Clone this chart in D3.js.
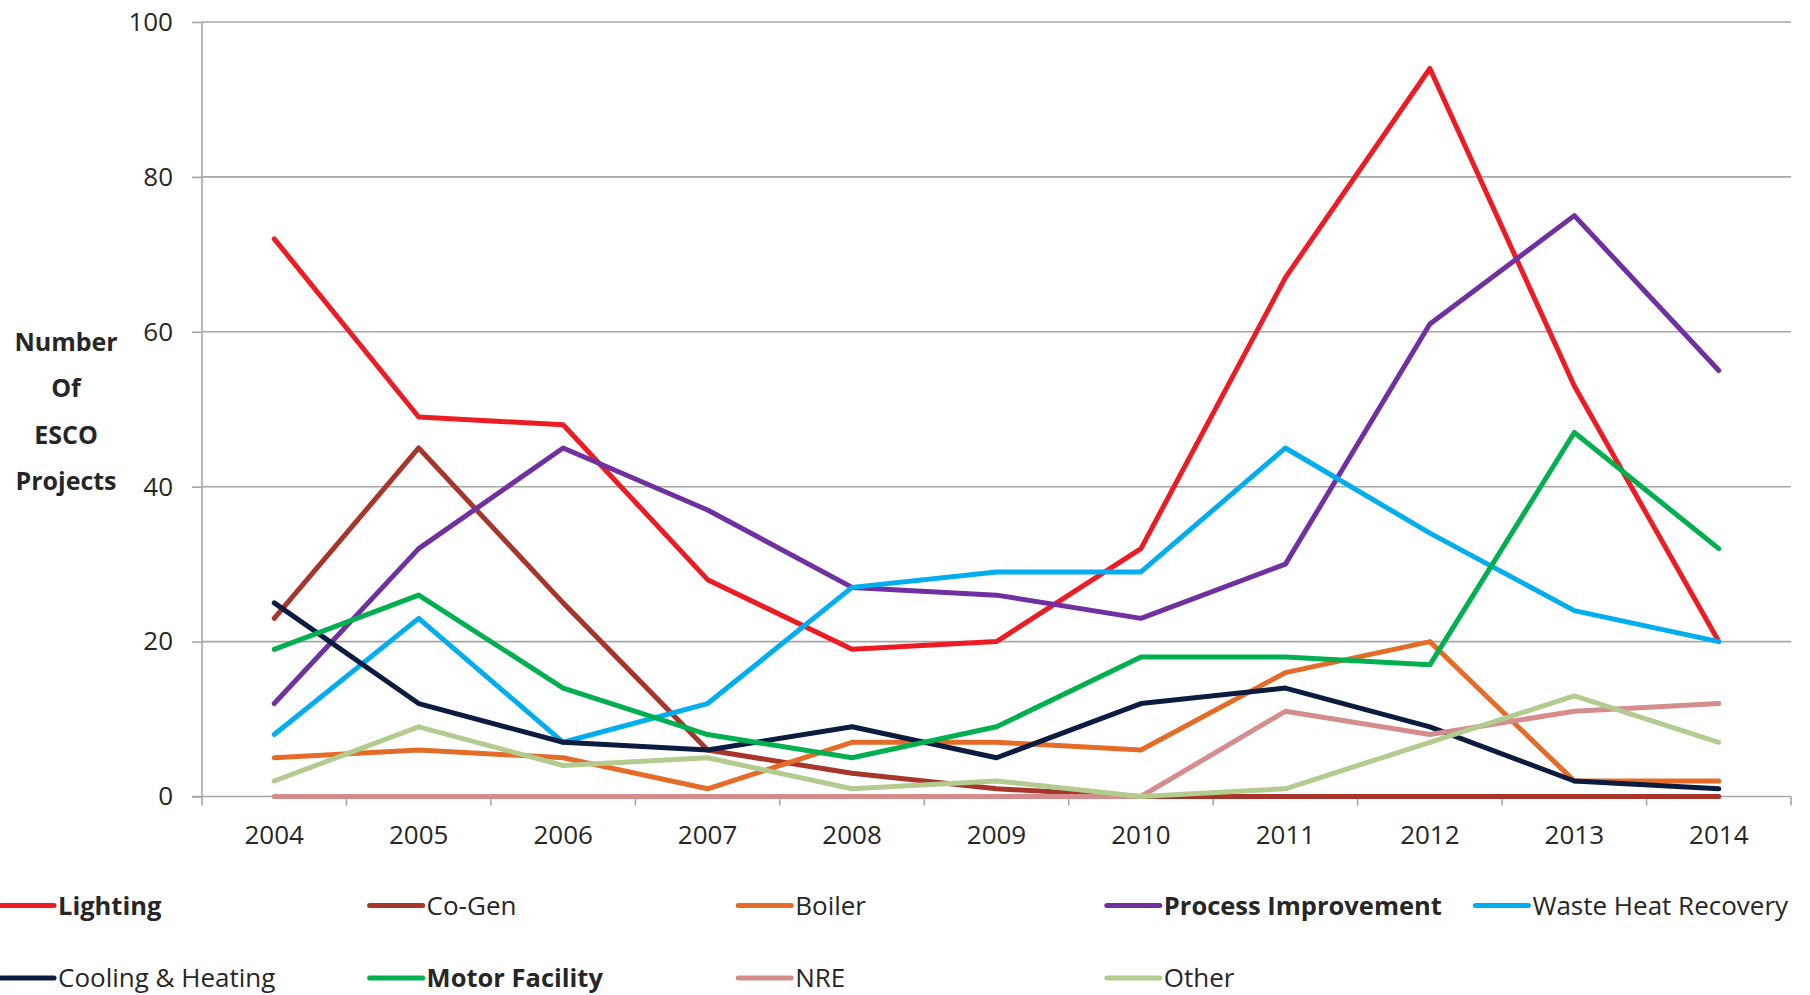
<!DOCTYPE html>
<html>
<head>
<meta charset="utf-8">
<script src="https://cdn.jsdelivr.net/npm/d3@7"></script>
<style>
  html, body { margin: 0; padding: 0; background: #ffffff; }
  svg { display: block; }
  text { font-family: "Open Sans", "Noto Sans", sans-serif; fill: #262626; }
</style>
</head>
<body>
<svg id="chart" width="1810" height="995"></svg>
<script>
// ---- data ----
const years = [2004, 2005, 2006, 2007, 2008, 2009, 2010, 2011, 2012, 2013, 2014];
const yTicks = [0, 20, 40, 60, 80, 100];
const seriesNames = ["Lighting", "Co-Gen", "Boiler", "Process Improvement", "Waste Heat Recovery",
                     "Cooling & Heating", "Motor Facility", "NRE", "Other"];
const lighting            = [72, 49, 48, 28, 19, 20, 32, 67, 94, 53, 20];
const coGen               = [23, 45, 25, 6, 3, 1, 0, 0, 0, 0, 0];
const boiler              = [5, 6, 5, 1, 7, 7, 6, 16, 20, 2, 2];
const processImprovement  = [12, 32, 45, 37, 27, 26, 23, 30, 61, 75, 55];
const wasteHeatRecovery   = [8, 23, 7, 12, 27, 29, 29, 45, 34, 24, 20];
const coolingHeating      = [25, 12, 7, 6, 9, 5, 12, 14, 9, 2, 1];
const motorFacility       = [19, 26, 14, 8, 5, 9, 18, 18, 17, 47, 32];
const nre                 = [0, 0, 0, 0, 0, 0, 0, 11, 8, 11, 12];
const other               = [2, 9, 4, 5, 1, 2, 0, 1, 7, 13, 7];
const yTitleLines = ["Number", "Of", "ESCO", "Projects"];

// ---- styles ----
const seriesColors = ["#ED1C24", "#A8352B", "#E46C28", "#7030A0", "#00AEEF",
                      "#0C1C40", "#00B050", "#D48C8C", "#B3CB8F"];
const seriesBold = [true, false, false, true, false, false, true, false, false];

const seriesValues = [lighting, coGen, boiler, processImprovement, wasteHeatRecovery,
                      coolingHeating, motorFacility, nre, other];
const series = seriesNames.map((name, i) => ({
  name, values: seriesValues[i], color: seriesColors[i], bold: seriesBold[i]
}));

const svg = d3.select("#chart");
const plotL = 202, plotR = 1791, plotT = 22, plotB = 796.5;

const x = d3.scaleBand().domain(years).range([plotL, plotR]).paddingInner(0).paddingOuter(0);
const y = d3.scaleLinear().domain([0, 100]).range([plotB, plotT]);
const cx = d => x(d) + x.bandwidth() / 2;

const gridColor = "#A6A6A6";

// gridlines
svg.append("g").selectAll("line")
  .data(yTicks.filter(t => t > 0))
  .join("line")
  .attr("x1", plotL).attr("x2", plotR)
  .attr("y1", d => y(d)).attr("y2", d => y(d))
  .attr("stroke", gridColor).attr("stroke-width", 1.6);

// y axis
const yAxis = svg.append("g")
  .attr("transform", `translate(${plotL},0)`)
  .call(d3.axisLeft(y).tickValues(yTicks).tickSize(10).tickPadding(19).tickSizeOuter(0));
yAxis.select(".domain").attr("stroke", gridColor).attr("stroke-width", 1.6)
  .attr("d", `M0,${plotT}V${plotB + 9}`);
yAxis.selectAll(".tick line").attr("stroke", gridColor).attr("stroke-width", 1.6);
yAxis.selectAll(".tick text")
  .style("font-family", '"Open Sans", sans-serif')
  .style("font-size", "26px").attr("fill", "#262626");

// x axis (labels at band centres, tick marks at band boundaries)
const xAxis = svg.append("g")
  .attr("transform", `translate(0,${plotB})`)
  .call(d3.axisBottom(x).tickSize(0).tickPadding(29).tickSizeOuter(0));
xAxis.select(".domain").attr("stroke", gridColor).attr("stroke-width", 1.6)
  .attr("d", `M${plotL - 10},0H${plotR}`);
xAxis.selectAll(".tick text")
  .style("font-family", '"Open Sans", sans-serif')
  .style("font-size", "26px").attr("fill", "#262626");
svg.append("g").selectAll("line")
  .data(years.slice(1).concat(["end"]))
  .join("line")
  .attr("x1", d => d === "end" ? plotR : x(d))
  .attr("x2", d => d === "end" ? plotR : x(d))
  .attr("y1", plotB).attr("y2", plotB + 9)
  .attr("stroke", gridColor).attr("stroke-width", 1.6);

// lines
const line = d3.line().x((d, i) => cx(years[i])).y(d => y(d));
svg.append("g").selectAll("path")
  .data(series)
  .join("path")
  .attr("d", d => line(d.values))
  .attr("fill", "none")
  .attr("stroke", d => d.color)
  .attr("stroke-width", 5)
  .attr("stroke-linejoin", "round")
  .attr("stroke-linecap", "round");

// y title
svg.append("g").selectAll("text")
  .data(yTitleLines)
  .join("text")
  .attr("x", 66)
  .attr("y", (d, i) => 351 + i * 46.3)
  .attr("text-anchor", "middle")
  .style("font-size", "25px")
  .style("font-weight", "bold")
  .text(d => d);

// legend
const colW = 368.6, row1 = 905.5, row2 = 978, lineLen = 55;
const leg = svg.append("g").selectAll("g")
  .data(series)
  .join("g")
  .attr("transform", (d, i) => `translate(${-1 + (i % 5) * colW},${i < 5 ? row1 : row2})`);
leg.append("line")
  .attr("x1", 2).attr("x2", lineLen)
  .attr("y1", 0).attr("y2", 0)
  .attr("stroke", d => d.color).attr("stroke-width", 5)
  .attr("stroke-linecap", "round");
leg.append("text")
  .attr("x", lineLen + 4)
  .attr("y", 9)
  .style("font-size", d => d.bold ? "25.5px" : "26px")
  .style("font-weight", d => d.bold ? "bold" : "normal")
  .text(d => d.name);
</script>
</body>
</html>
